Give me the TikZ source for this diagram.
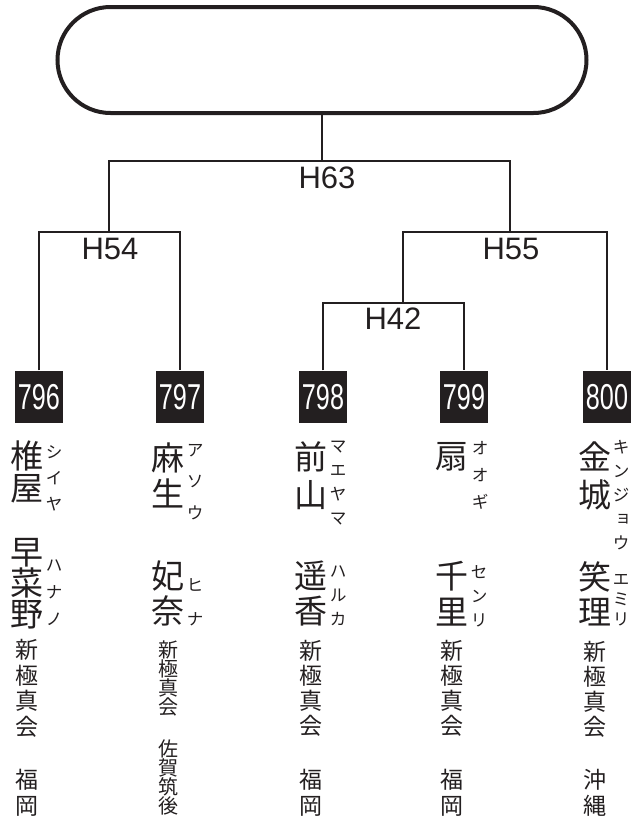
\documentclass[tikz,border=0pt]{standalone}
\usepackage{fontspec}
\usepackage{tikz}
\setsansfont{Liberation Sans}
\newfontfamily\cjk{Noto Sans CJK JP}
\newfontfamily\cjkv{Noto Sans CJK JP}[RawFeature=+vert]
\newfontfamily\numfont{Liberation Sans}[FakeStretch=0.7]
\definecolor{ink}{HTML}{231F20}
\XeTeXuseglyphmetrics=1

\begin{document}
\begin{tikzpicture}[x=1pt,y=-1pt,line width=1.3pt,color=ink,
  every node/.style={inner sep=0pt,align=center,execute at begin node={\lineskiplimit=-100pt}},
  seed/.style={fill=ink,text=white,minimum width=48pt,minimum height=52pt,font=\numfont\fontsize{36}{36}\selectfont},
  game/.style={font=\sffamily\fontsize{31}{31}\selectfont},
  sei/.style={font=\cjk\fontsize{33}{#1}\selectfont},sei/.default=36,
  kana/.style={font=\cjkv\fontsize{17}{#1}\selectfont},kana/.default=24,
  dojo/.style={font=\cjk\fontsize{23}{#1}\selectfont},dojo/.default=25,
  dojosmall/.style={font=\cjk\fontsize{20}{19}\selectfont}]
\useasboundingbox (0,0) rectangle (630,819);
\node (final) [draw,line width=4pt,rounded corners=53pt,minimum width=529pt,minimum height=106pt] at (322,60) {};
\node (s796) [seed] at (39,397) {796};
\node (s797) [seed] at (180,397) {797};
\node (s798) [seed] at (323,397) {798};
\node (s799) [seed] at (464,397) {799};
\node (s800) [seed] at (607,397) {800};
\coordinate (j63) at (322,161);
\coordinate (j54) at (109,232);
\coordinate (j55) at (510,232);
\coordinate (j42) at (403,303);
\node (h63) [game] at (327,178) {H63};
\node (h54) [game] at (110,249) {H54};
\node (h55) [game] at (511,249) {H55};
\node (h42) [game] at (393,319) {H42};
\draw (final.south) -- (j63);
\draw (j54) |- (j63) -| (j55);
\draw (s796.north) |- (j54) -| (s797.north);
\draw (j42) |- (j55) -| (s800.north);
\draw (s798.north) |- (j42) -| (s799.north);
\node (sei796) [sei=32] at (27,472) {椎\\屋};
\node (seikana796) [kana=26] at (54,478) {シ\\イ\\ヤ};
\node (mei796) [sei=31] at (27,583.5) {早\\菜\\野};
\node (meikana796) [kana=27] at (54,593) {ハ\\ナ\\ノ};
\node (dojo796) [dojo=25.5] at (27,688.5) {新\\極\\真\\会};
\node (ken796) [dojo=26] at (27,792.5) {福\\岡};
\node (sei797) [sei] at (168,475) {麻\\生};
\node (seikana797) [kana=31.5] at (195,482) {ア\\ソ\\ウ};
\node (mei797) [sei=35] at (168,593.5) {妃\\奈};
\node (meikana797) [kana=34] at (195,602.5) {ヒ\\ナ};
\node (dojo797) [dojosmall] at (168,678.5) {新\\極\\真\\会};
\node (ken797) [dojosmall] at (168,777.5) {佐\\賀\\筑\\後};
\node (sei798) [sei=38] at (311,476) {前\\山};
\node (seikana798) [kana] at (338,483.5) {マ\\エ\\ヤ\\マ};
\node (mei798) [sei=35] at (311,594) {遥\\香};
\node (meikana798) [kana] at (338,596) {ハ\\ル\\カ};
\node (dojo798) [dojo] at (311,688.5) {新\\極\\真\\会};
\node (ken798) [dojo=26] at (311,792.5) {福\\岡};
\node (sei799) [sei] at (452,457) {扇};
\node (seikana799) [kana=27] at (480,475) {オ\\オ\\ギ};
\node (mei799) [sei] at (452,593.5) {千\\里};
\node (meikana799) [kana] at (479,596) {セ\\ン\\リ};
\node (dojo799) [dojo] at (452,688.5) {新\\極\\真\\会};
\node (ken799) [dojo=26] at (452,792.5) {福\\岡};
\node (sei800) [sei=38] at (595,476) {金\\城};
\node (seikana800) [kana] at (621,495.5) {キ\\ン\\ジ\\ョ\\ウ};
\node (mei800) [sei=35] at (595,593.5) {笑\\理};
\node (meikana800) [kana=20] at (621,600) {エ\\ミ\\リ};
\node (dojo800) [dojo] at (595,689) {新\\極\\真\\会};
\node (ken800) [dojo=26] at (595,793) {沖\\縄};
\end{tikzpicture}
\end{document}
